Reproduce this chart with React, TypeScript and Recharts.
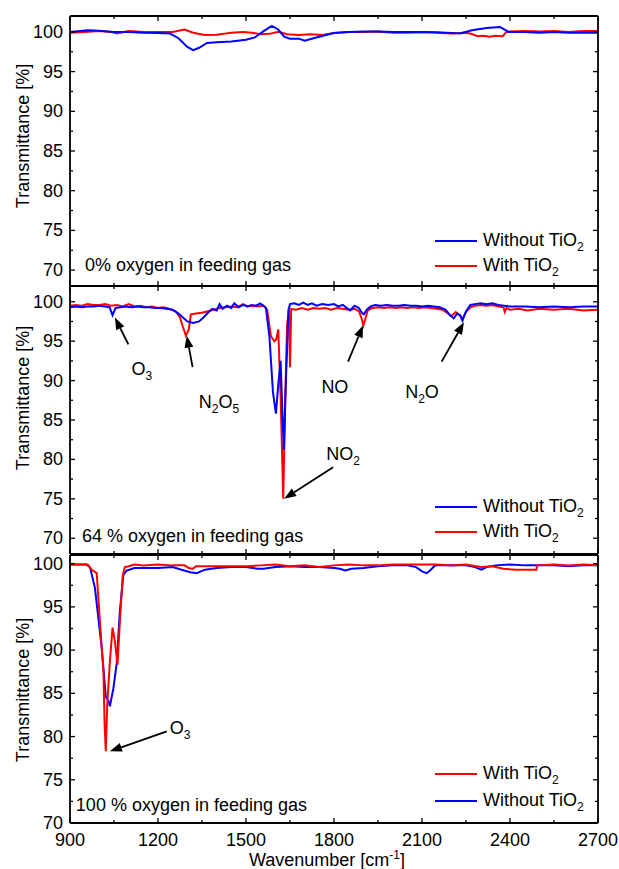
import React from 'react';
import { LineChart, Line, XAxis, YAxis, Legend, ReferenceLine, ReferenceDot } from 'recharts';

type Pt = [number, number];

const FONT = '"Liberation Sans", Arial, Helvetica, sans-serif';
const BLUE = '#0000ff';
const RED = '#ff0000';

const xTicks = [900, 1050, 1200, 1350, 1500, 1650, 1800, 1950, 2100, 2250, 2400, 2550, 2700];
const yTicks = [70, 72.5, 75, 77.5, 80, 82.5, 85, 87.5, 90, 92.5, 95, 97.5, 100];

// 0 % oxygen in feeding gas
const p0Without: Pt[] = [
  [900, 100.0], [960, 100.2], [1000, 100.15], [1050, 100.0], [1100, 100.0], [1150, 99.9], [1200, 99.85],
  [1240, 99.8], [1270, 99.2], [1300, 98.1], [1320, 97.7], [1340, 98.0], [1367, 98.6], [1400, 98.7],
  [1450, 98.8], [1500, 99.0], [1530, 99.3], [1560, 100.1], [1588, 100.75], [1610, 100.3], [1630, 99.4],
  [1650, 99.15], [1680, 99.15], [1700, 98.9], [1740, 99.3], [1800, 99.85], [1850, 100.0], [1900, 100.05],
  [1950, 100.05], [2000, 100.0], [2050, 100.0], [2100, 100.0], [2150, 99.95], [2200, 99.85], [2230, 99.8],
  [2270, 100.2], [2320, 100.5], [2366, 100.6], [2382, 100.3], [2395, 100.0], [2450, 100.0], [2500, 99.9],
  [2550, 100.0], [2600, 99.9], [2650, 99.9], [2700, 99.9],
];
const p0With: Pt[] = [
  [900, 99.9], [950, 100.0], [1000, 100.1], [1040, 100.0], [1060, 99.8], [1100, 100.1], [1150, 100.0],
  [1200, 100.0], [1250, 100.0], [1290, 100.3], [1320, 99.9], [1360, 99.6], [1400, 99.65], [1450, 99.9],
  [1490, 100.0], [1520, 99.9], [1550, 99.7], [1580, 99.75], [1610, 100.0], [1640, 99.7], [1680, 99.6],
  [1720, 99.7], [1760, 99.6], [1800, 99.85], [1850, 100.0], [1900, 100.0], [1950, 100.05], [2000, 99.9],
  [2050, 99.9], [2100, 99.95], [2150, 99.9], [2200, 99.8], [2240, 99.9], [2265, 99.8], [2290, 99.45],
  [2310, 99.5], [2330, 99.4], [2350, 99.5], [2375, 99.45], [2388, 100.0], [2400, 100.05], [2450, 100.1],
  [2500, 100.05], [2550, 100.1], [2600, 100.0], [2650, 100.1], [2700, 100.1],
];

// 64 % oxygen in feeding gas
const p64Without: Pt[] = [
  [900, 99.3], [920, 99.4], [940, 99.3], [960, 99.4], [980, 99.4], [1000, 99.5], [1020, 99.4], [1035, 99.3],
  [1045, 98.3], [1055, 99.2], [1070, 99.3], [1090, 99.4], [1110, 99.3], [1130, 99.4], [1150, 99.3],
  [1170, 99.3], [1190, 99.2], [1210, 99.2], [1230, 99.1], [1250, 99.0], [1270, 98.5], [1285, 98.0],
  [1300, 97.5], [1320, 97.3], [1340, 97.5], [1355, 98.0], [1370, 98.6], [1385, 99.1], [1400, 98.9],
  [1410, 99.7], [1420, 99.1], [1435, 99.5], [1450, 99.2], [1460, 99.8], [1475, 99.3], [1490, 99.6],
  [1505, 99.4], [1520, 99.6], [1535, 99.5], [1548, 99.8], [1560, 99.5], [1568, 99.2], [1580, 95.5],
  [1592, 88.5], [1602, 85.8], [1610, 89.5], [1618, 92.5], [1624, 86.0], [1629, 81.2], [1636, 90.0],
  [1645, 99.0], [1650, 99.7], [1665, 99.8], [1680, 99.6], [1695, 99.9], [1710, 99.6], [1725, 99.8],
  [1740, 99.5], [1760, 99.7], [1780, 99.6], [1800, 99.7], [1815, 99.4], [1830, 99.6], [1855, 98.9],
  [1870, 99.5], [1885, 99.2], [1895, 98.6], [1902, 98.4], [1912, 99.0], [1925, 99.4], [1940, 99.6],
  [1960, 99.5], [1980, 99.6], [2000, 99.5], [2020, 99.5], [2040, 99.6], [2060, 99.5], [2080, 99.5],
  [2100, 99.4], [2120, 99.5], [2140, 99.4], [2160, 99.3], [2180, 99.0], [2195, 98.3], [2208, 97.9],
  [2220, 98.5], [2230, 98.3], [2238, 97.6], [2250, 98.8], [2265, 99.6], [2280, 99.7], [2300, 99.8],
  [2320, 99.7], [2340, 99.8], [2360, 99.6], [2380, 99.5], [2400, 99.4], [2450, 99.4], [2500, 99.3],
  [2550, 99.4], [2600, 99.3], [2650, 99.4], [2700, 99.4],
];
const p64With: Pt[] = [
  [900, 99.5], [920, 99.6], [940, 99.5], [960, 99.7], [980, 99.6], [1000, 99.6], [1020, 99.7], [1040, 99.5],
  [1060, 99.6], [1080, 99.4], [1100, 99.7], [1120, 99.4], [1140, 99.5], [1160, 99.3], [1180, 99.4],
  [1200, 99.2], [1220, 99.3], [1240, 99.1], [1260, 98.8], [1275, 98.0], [1285, 96.8], [1295, 95.7],
  [1305, 96.5], [1312, 98.4], [1330, 98.5], [1350, 98.6], [1370, 98.8], [1390, 99.0], [1410, 99.2],
  [1430, 99.3], [1450, 99.4], [1470, 99.3], [1490, 99.7], [1505, 99.4], [1520, 99.5], [1540, 99.4],
  [1560, 99.5], [1572, 99.0], [1585, 95.6], [1597, 95.0], [1603, 95.2], [1610, 96.5], [1618, 88.0],
  [1627, 75.0], [1634, 88.0], [1640, 97.0], [1646, 99.0], [1650, 91.7], [1654, 99.1], [1670, 99.0],
  [1690, 99.2], [1710, 99.0], [1730, 99.2], [1750, 99.1], [1770, 99.2], [1790, 99.0], [1810, 99.2],
  [1830, 99.1], [1850, 99.0], [1870, 99.1], [1885, 98.8], [1895, 97.8], [1900, 97.0], [1905, 97.6],
  [1915, 98.9], [1930, 99.2], [1950, 99.3], [1970, 99.2], [1990, 99.3], [2010, 99.2], [2030, 99.3],
  [2050, 99.2], [2070, 99.3], [2090, 99.2], [2110, 99.3], [2130, 99.2], [2150, 99.1], [2170, 99.0],
  [2185, 98.6], [2200, 98.2], [2215, 98.7], [2228, 98.3], [2237, 97.8], [2250, 98.7], [2265, 99.3],
  [2280, 99.5], [2300, 99.6], [2320, 99.5], [2340, 99.6], [2360, 99.4], [2378, 99.3], [2382, 98.7],
  [2388, 99.2], [2400, 99.0], [2430, 99.1], [2460, 98.9], [2500, 99.1], [2550, 99.0], [2600, 99.1],
  [2650, 98.9], [2700, 99.0],
];

// 100 % oxygen in feeding gas
const p100Without: Pt[] = [
  [900, 99.9], [930, 99.9], [955, 99.9], [968, 99.6], [985, 97.2], [1008, 90.3], [1022, 84.6], [1031, 84.1],
  [1036, 83.5], [1048, 85.6], [1059, 88.4], [1070, 94.5], [1082, 98.7], [1093, 99.2], [1120, 99.5],
  [1150, 99.5], [1200, 99.5], [1250, 99.6], [1280, 99.3], [1310, 99.0], [1332, 98.9], [1360, 99.3],
  [1400, 99.5], [1450, 99.6], [1500, 99.6], [1540, 99.4], [1560, 99.4], [1600, 99.6], [1650, 99.7],
  [1700, 99.6], [1750, 99.6], [1800, 99.5], [1820, 99.4], [1838, 99.2], [1860, 99.4], [1900, 99.5],
  [1950, 99.7], [2000, 99.8], [2050, 99.8], [2080, 99.6], [2100, 99.1], [2116, 98.9], [2130, 99.3],
  [2145, 99.8], [2200, 99.8], [2250, 99.8], [2280, 99.6], [2303, 99.3], [2320, 99.6], [2350, 99.8],
  [2400, 99.9], [2450, 99.8], [2500, 99.8], [2550, 99.8], [2600, 99.7], [2650, 99.8], [2700, 99.8],
];
const p100With: Pt[] = [
  [900, 99.9], [930, 99.9], [960, 99.9], [974, 99.3], [991, 98.9], [1002, 93.3], [1014, 87.5], [1018, 81.4],
  [1022, 78.3], [1027, 83.7], [1036, 88.7], [1045, 92.6], [1053, 91.0], [1062, 88.3], [1070, 93.3],
  [1080, 98.7], [1087, 99.6], [1100, 99.7], [1120, 99.9], [1150, 99.8], [1200, 99.9], [1250, 99.8],
  [1290, 99.8], [1305, 99.5], [1318, 99.4], [1330, 99.7], [1400, 99.7], [1450, 99.7], [1500, 99.7],
  [1550, 99.8], [1600, 99.9], [1650, 99.7], [1700, 99.8], [1750, 99.6], [1800, 99.8], [1850, 99.9],
  [1900, 99.8], [1950, 99.8], [2000, 99.9], [2050, 99.9], [2100, 99.9], [2150, 99.9], [2200, 99.8],
  [2250, 99.9], [2300, 99.6], [2340, 99.7], [2377, 99.4], [2420, 99.3], [2460, 99.3], [2490, 99.3],
  [2492, 99.8], [2550, 99.9], [2600, 99.8], [2650, 99.9], [2700, 99.8],
];

type Note = { text: [string, string][]; at: Pt; tail?: Pt; head?: Pt };

const p64Notes: Note[] = [
  { text: [['O', '3']], at: [1145, 91.5], tail: [1099, 94.6], head: [1053, 98.0] },
  { text: [['N', '2'], ['O', '5']], at: [1408, 87.3], tail: [1318, 91.7], head: [1298, 95.7] },
  { text: [['NO', '2']], at: [1831, 80.7], tail: [1797, 79.0], head: [1630, 75.0] },
  { text: [['NO', '']], at: [1803, 89.2], tail: [1848, 92.4], head: [1899, 97.0] },
  { text: [['N', '2'], ['O', '']], at: [2100, 88.5], tail: [2167, 92.4], head: [2243, 97.4] },
];
const p100Notes: Note[] = [
  { text: [['O', '3']], at: [1275, 81.0], tail: [1230, 80.6], head: [1036, 78.3] },
];

const rows = (pts: Pt[]) => pts.map(([x, y]) => ({ x, y }));
const axisStyle = { stroke: '#000', strokeWidth: 1.8 };

const YTick = ({ x, y, payload, side }: any) => {
  const v = payload.value;
  const major = Math.abs(v % 5) < 1e-6;
  const len = major ? 5 : 3;
  const dir = side === 'left' ? 1 : -1;
  return (
    <g>
      <line x1={x} y1={y} x2={x + dir * len} y2={y} stroke="#000" strokeWidth={1.3} />
      {side === 'left' && major && (
        <text x={x - 7} y={y + 6} textAnchor="end" fontSize={18} fill="#000">{v}</text>
      )}
    </g>
  );
};

const XTick = ({ x, y, payload, side, labels }: any) => {
  const v = payload.value;
  const major = v % 300 === 0;
  const len = major ? 5 : 3;
  const dir = side === 'bottom' ? -1 : 1;
  return (
    <g>
      <line x1={x} y1={y} x2={x} y2={y + dir * len} stroke="#000" strokeWidth={1.3} />
      {labels && major && (
        <text x={x} y={y + 23} textAnchor="middle" fontSize={18} fill="#000">{v}</text>
      )}
    </g>
  );
};

const YTitle = ({ viewBox, shift }: any) => {
  const vb = viewBox || { y: 0, height: 0 };
  const cx = 23;
  const cy = vb.y + vb.height / 2 + shift;
  return (
    <text x={cx} y={cy} transform={`rotate(-90, ${cx}, ${cy})`} textAnchor="middle" dominantBaseline="central" fontSize={18} fill="#000">
      Transmittance [%]
    </text>
  );
};

const XTitle = ({ viewBox }: any) => {
  const vb = viewBox || { x: 70, y: 823, width: 528 };
  return (
    <text x={vb.x + vb.width / 2 - 7} y={vb.y + 43} textAnchor="middle" fontSize={18} fill="#000">
      <tspan>Wavenumber [cm</tspan>
      <tspan dy={-7} fontSize={12}>-1</tspan>
      <tspan dy={7}>]</tspan>
    </text>
  );
};

const Arrow = ({ x1, y1, x2, y2 }: any) => {
  const a = Math.atan2(y2 - y1, x2 - x1);
  const L = 12;
  const W = 4.5;
  const bx = x2 - L * Math.cos(a);
  const by = y2 - L * Math.sin(a);
  const pts = `${x2},${y2} ${bx + W * Math.sin(a)},${by - W * Math.cos(a)} ${bx - W * Math.sin(a)},${by + W * Math.cos(a)}`;
  return (
    <g>
      <line x1={x1} y1={y1} x2={bx} y2={by} stroke="#000" strokeWidth={1.8} />
      <polygon points={pts} fill="#000" />
    </g>
  );
};

const Chem = ({ cx, cy, parts }: any) => (
  <text x={cx} y={cy + 6} textAnchor="middle" fontSize={18} fill="#000">
    {parts.map(([base, sub]: [string, string], i: number) => (
      <React.Fragment key={i}>
        <tspan dy={i > 0 && parts[i - 1][1] ? -5 : 0}>{base}</tspan>
        {sub ? <tspan dy={5} fontSize={12}>{sub}</tspan> : null}
      </React.Fragment>
    ))}
  </text>
);

const Caption = ({ cx, cy, text }: any) => (
  <text x={cx} y={cy + 6} fontSize={18} fill="#000">{text}</text>
);

const LegendBox = ({ order, rowH }: any) => (
  <div style={{ fontFamily: FONT, fontSize: 18, color: '#000' }}>
    {order.map((k: string) => (
      <div key={k} style={{ display: 'flex', alignItems: 'center', height: rowH, whiteSpace: 'nowrap' }}>
        <span style={{ display: 'inline-block', width: 42, height: 2, background: k === 'with' ? RED : BLUE }} />
        <span style={{ marginLeft: 6 }}>
          {k === 'with' ? 'With' : 'Without'} TiO
          <span style={{ fontSize: 12, position: 'relative', top: 5 }}>2</span>
        </span>
      </div>
    ))}
  </div>
);

type PanelProps = {
  top: number;
  height: number;
  mt: number;
  mb: number;
  bottomH: number;
  domain: [number, number];
  lines: { key: string; pts: Pt[] }[];
  legendOrder: string[];
  legendTop: number;
  rowH: number;
  caption: string;
  captionAt: Pt;
  notes: Note[];
  titleShift: number;
  xLabels: boolean;
};

const Panel = (p: PanelProps) => (
  <div style={{ position: 'absolute', left: 0, top: p.top }}>
    <LineChart width={619} height={p.height} margin={{ top: p.mt, right: 0, bottom: p.mb, left: 0 }}>
      <XAxis
        xAxisId="bottom"
        type="number"
        dataKey="x"
        domain={[900, 2700]}
        ticks={xTicks}
        interval={0}
        allowDataOverflow
        height={p.bottomH}
        tickSize={0}
        tickMargin={0}
        tickLine={false}
        axisLine={axisStyle}
        tick={(t: any) => <XTick {...t} side="bottom" labels={p.xLabels} />}
        label={p.xLabels ? { content: (l: any) => <XTitle {...l} /> } : undefined}
      />
      <XAxis
        xAxisId="top"
        orientation="top"
        type="number"
        dataKey="x"
        domain={[900, 2700]}
        ticks={xTicks}
        interval={0}
        allowDataOverflow
        height={1}
        tickSize={0}
        tickMargin={0}
        tickLine={false}
        axisLine={axisStyle}
        tick={(t: any) => <XTick {...t} side="top" labels={false} />}
      />
      <YAxis
        yAxisId="left"
        type="number"
        domain={p.domain}
        ticks={yTicks}
        interval={0}
        allowDataOverflow
        width={70}
        tickSize={0}
        tickMargin={0}
        tickLine={false}
        axisLine={axisStyle}
        tick={(t: any) => <YTick {...t} side="left" />}
        label={{ content: (l: any) => <YTitle {...l} shift={p.titleShift} /> }}
      />
      <YAxis
        yAxisId="right"
        orientation="right"
        type="number"
        domain={p.domain}
        ticks={yTicks}
        interval={0}
        allowDataOverflow
        width={21}
        tickSize={0}
        tickMargin={0}
        tickLine={false}
        axisLine={axisStyle}
        tick={(t: any) => <YTick {...t} side="right" />}
      />
      {p.lines.map((l) => (
        <Line
          key={l.key}
          xAxisId="bottom"
          yAxisId="left"
          data={rows(l.pts)}
          dataKey="y"
          type="linear"
          stroke={l.key === 'with' ? RED : BLUE}
          strokeWidth={2}
          dot={false}
          activeDot={false}
          isAnimationActive={false}
        />
      ))}
      {p.notes.map((n, i) =>
        n.tail && n.head ? (
          <ReferenceLine
            key={`arrow-${i}`}
            xAxisId="bottom"
            yAxisId="left"
            segment={[{ x: n.tail[0], y: n.tail[1] }, { x: n.head[0], y: n.head[1] }]}
            shape={(s: any) => <Arrow {...s} />}
            ifOverflow="visible"
          />
        ) : null
      )}
      {p.notes.map((n, i) => (
        <ReferenceDot
          key={`note-${i}`}
          xAxisId="bottom"
          yAxisId="left"
          x={n.at[0]}
          y={n.at[1]}
          r={1}
          ifOverflow="visible"
          shape={(s: any) => <Chem cx={s.cx} cy={s.cy} parts={n.text} />}
        />
      ))}
      <ReferenceDot
        xAxisId="bottom"
        yAxisId="left"
        x={p.captionAt[0]}
        y={p.captionAt[1]}
        r={1}
        ifOverflow="visible"
        shape={(s: any) => <Caption cx={s.cx} cy={s.cy} text={p.caption} />}
      />
      <Legend
        layout="horizontal"
        verticalAlign="middle"
        align="center"
        content={() => <LegendBox order={p.legendOrder} rowH={p.rowH} />}
        wrapperStyle={{ left: 435, top: p.legendTop, width: 180 }}
      />
    </LineChart>
  </div>
);

export default function App() {
  return (
    <div style={{ position: 'absolute', left: 0, top: 0, width: 619, height: 869, fontFamily: FONT, background: '#fff' }}>
      <Panel
        top={0}
        height={290}
        mt={15}
        mb={3}
        bottomH={1}
        domain={[68, 102]}
        lines={[{ key: 'with', pts: p0With }, { key: 'without', pts: p0Without }]}
        legendOrder={['without', 'with']}
        legendTop={228}
        rowH={25}
        caption="0% oxygen in feeding gas"
        captionAt={[951, 70.7]}
        notes={[]}
        titleShift={-15}
        xLabels={false}
      />
      <Panel
        top={270}
        height={290}
        mt={15}
        mb={5}
        bottomH={1}
        domain={[68, 102]}
        lines={[{ key: 'with', pts: p64With }, { key: 'without', pts: p64Without }]}
        legendOrder={['without', 'with']}
        legendTop={224}
        rowH={25}
        caption="64 % oxygen in feeding gas"
        captionAt={[941, 70.3]}
        notes={p64Notes}
        titleShift={-22}
        xLabels={false}
      />
      <Panel
        top={539}
        height={330}
        mt={15}
        mb={0}
        bottomH={46}
        domain={[70, 101]}
        lines={[{ key: 'without', pts: p100Without }, { key: 'with', pts: p100With }]}
        legendOrder={['with', 'without']}
        legendTop={221}
        rowH={27}
        caption="100 % oxygen in feeding gas"
        captionAt={[920, 72.1]}
        notes={p100Notes}
        titleShift={1}
        xLabels={true}
      />
    </div>
  );
}
